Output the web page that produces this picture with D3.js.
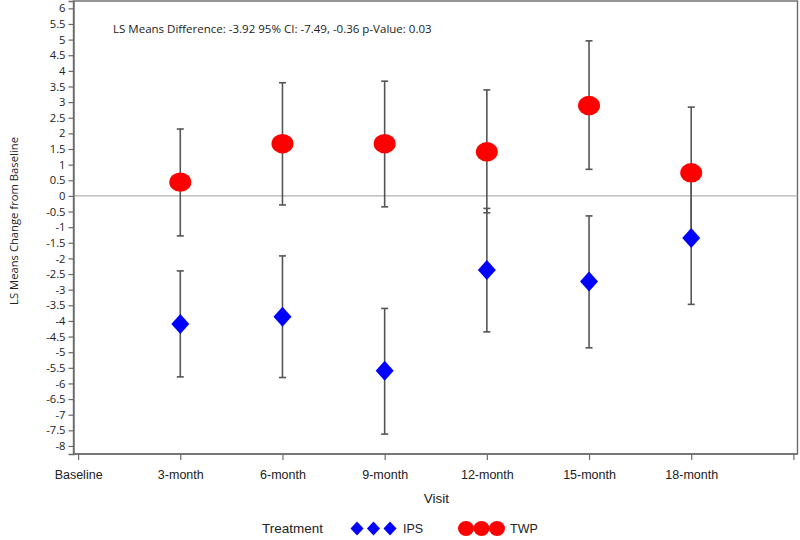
<!DOCTYPE html>
<html>
<head>
<meta charset="utf-8">
<script src="https://cdn.jsdelivr.net/npm/d3@7"></script>
<style>
  html, body { margin: 0; padding: 0; background: #fff; }
  svg { display: block; }
</style>
</head>
<body>
<svg id="chart" width="800" height="540"></svg>
<script>
// ---------- data ----------
const visits = ["Baseline", "3-month", "6-month", "9-month", "12-month", "15-month", "18-month", ""];
const plotVisits = ["3-month", "6-month", "9-month", "12-month", "15-month", "18-month"];
const twpMean  = [0.44, 1.67, 1.67, 1.41, 2.89, 0.74];
const twpLower = [-1.28, -0.29, -0.35, -0.54, 0.85, -1.36];
const twpUpper = [2.14, 3.62, 3.67, 3.39, 4.96, 2.84];
const ipsMean  = [-4.10, -3.87, -5.59, -2.37, -2.74, -1.35];
const ipsLower = [-5.79, -5.81, -7.62, -4.35, -4.86, -3.47];
const ipsUpper = [-2.40, -1.92, -3.60, -0.40, -0.64, 0.75];
const yTicks = d3.range(-8, 6.001, 0.5);
const annotation = "LS Means Difference: -3.92 95% CI: -7.49, -0.36 p-Value: 0.03";
const legendTitle = "Treatment";
const seriesNames = ["IPS", "TWP"];

// ---------- layout ----------
const svg = d3.select("#chart");
const pLeft = 73.5, pRight = 797.5, pTop = 1, pBottom = 454;

const x = d3.scaleLinear().domain([-0.045, 7.04]).range([pLeft, pRight]);
const y = d3.scaleLinear().domain([-8.257, 6.235]).range([pBottom, pTop]);
const xi = v => x(visits.indexOf(v));

const axisColor = "#6b6b6b";
const barColor = "#555";

function fitWidth(sel, target) {
  const w = sel.node().getComputedTextLength();
  const fs = parseFloat(sel.style("font-size"));
  if (w > 0) sel.style("font-size", (fs * target / w).toFixed(2) + "px");
}

// frame
svg.append("rect")
  .attr("x", pLeft).attr("y", pTop)
  .attr("width", pRight - pLeft).attr("height", pBottom - pTop)
  .attr("fill", "none").attr("stroke", axisColor).attr("stroke-width", 1.4);

// zero reference line
svg.append("line")
  .attr("x1", pLeft).attr("x2", pRight)
  .attr("y1", y(0)).attr("y2", y(0))
  .attr("stroke", "#b0b0b0").attr("stroke-width", 1.2);

// y axis
const yAxis = svg.append("g")
  .attr("transform", `translate(${pLeft},0)`)
  .call(d3.axisLeft(y).tickValues(yTicks).tickSize(5).tickPadding(3)
    .tickFormat(d => String(+d.toFixed(1))));
yAxis.select(".domain").attr("stroke", axisColor).attr("stroke-width", 1.4);
yAxis.selectAll(".tick line").attr("stroke", axisColor).attr("stroke-width", 1.2);
yAxis.selectAll(".tick text")
  .attr("fill", "#222")
  .style("font-family", "'Open Sans', 'DejaVu Sans', sans-serif")
  .style("font-size", "11.2px");

// x axis
const xAxis = svg.append("g")
  .attr("transform", `translate(0,${pBottom})`)
  .call(d3.axisBottom(x).tickValues(d3.range(visits.length)).tickSize(6).tickPadding(10)
    .tickFormat(i => visits[i]));
xAxis.select(".domain").attr("stroke", axisColor).attr("stroke-width", 1.4)
  .attr("d", `M${pLeft},0H${pRight}`);
xAxis.selectAll(".tick line").attr("stroke", axisColor).attr("stroke-width", 1.2);
xAxis.selectAll(".tick text")
  .attr("fill", "#222")
  .style("font-family", "'Liberation Sans Narrow', 'Liberation Sans', Arial, sans-serif")
  .style("font-size", "12.5px");

// axis titles
svg.append("text")
  .attr("x", (pLeft + pRight) / 2 + 1).attr("y", 503)
  .attr("text-anchor", "middle")
  .style("font-family", "'Liberation Sans', Arial, sans-serif")
  .style("font-size", "13.5px").attr("fill", "#222")
  .text("Visit");

const yTitle = svg.append("text")
  .attr("transform", `translate(18,221) rotate(-90)`)
  .attr("text-anchor", "middle")
  .style("font-family", "'Open Sans', 'DejaVu Sans', sans-serif")
  .style("font-size", "12px").attr("fill", "#222")
  .text("LS Means Change from Baseline");
fitWidth(yTitle, 168);

// annotation
const ann = svg.append("text")
  .attr("x", 113).attr("y", 33)
  .style("font-family", "'Open Sans', 'DejaVu Sans', sans-serif")
  .style("font-size", "11px").attr("fill", "#222")
  .text(annotation);
fitWidth(ann, 319);

// error bars
function errorBars(lower, upper) {
  const g = svg.append("g").attr("stroke", barColor).attr("stroke-width", 1.6);
  plotVisits.forEach((v, i) => {
    const cx = xi(v);
    g.append("line").attr("x1", cx).attr("x2", cx)
      .attr("y1", y(lower[i])).attr("y2", y(upper[i]));
    [lower[i], upper[i]].forEach(val => {
      g.append("line").attr("x1", cx - 3.5).attr("x2", cx + 3.5)
        .attr("y1", y(val)).attr("y2", y(val));
    });
  });
}
errorBars(twpLower, twpUpper);
errorBars(ipsLower, ipsUpper);

const diamondPath = (hw, hh) => `M0,${-hh}L${hw},0L0,${hh}L${-hw},0Z`;

// TWP circles
svg.append("g").selectAll("ellipse")
  .data(twpMean).join("ellipse")
  .attr("cx", (d, i) => xi(plotVisits[i]))
  .attr("cy", d => y(d))
  .attr("rx", 11).attr("ry", 9.7)
  .attr("fill", "#ff0000");

// IPS diamonds
svg.append("g").selectAll("path")
  .data(ipsMean).join("path")
  .attr("transform", (d, i) => `translate(${xi(plotVisits[i])},${y(d)})`)
  .attr("d", diamondPath(9, 10))
  .attr("fill", "#0000ff");

// legend
const lg = svg.append("g");
const legendFont = "'Liberation Sans Narrow', 'Liberation Sans', Arial, sans-serif";
lg.append("text").attr("x", 262).attr("y", 533)
  .style("font-family", "'Liberation Sans', Arial, sans-serif")
  .style("font-size", "13.5px").attr("fill", "#222").text(legendTitle);
[357, 373.5, 390].forEach(cx => {
  lg.append("path").attr("transform", `translate(${cx},528.5)`)
    .attr("d", diamondPath(6.5, 7)).attr("fill", "#0000ff");
});
lg.append("text").attr("x", 403).attr("y", 533)
  .style("font-family", legendFont).style("font-size", "12.5px")
  .attr("fill", "#222").text(seriesNames[0]);
[466, 481.5, 497].forEach(cx => {
  lg.append("ellipse").attr("cx", cx).attr("cy", 528.5)
    .attr("rx", 8).attr("ry", 7.5).attr("fill", "#ff0000");
});
lg.append("text").attr("x", 510).attr("y", 533)
  .style("font-family", legendFont).style("font-size", "12.5px")
  .attr("fill", "#222").text(seriesNames[1]);
</script>
</body>
</html>
